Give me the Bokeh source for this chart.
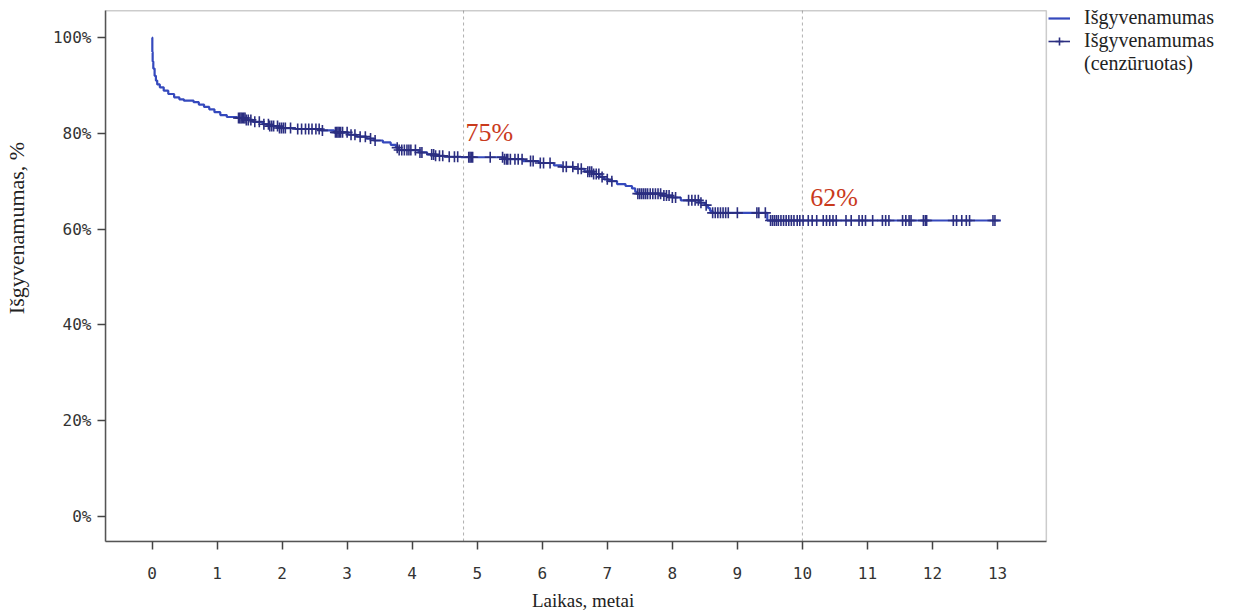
import numpy as np
from bokeh.plotting import figure
from bokeh.models import Range1d, FixedTicker, Legend, LegendItem, ColumnDataSource, BoxAnnotation
from bokeh.core.properties import value
from bokeh.embed import file_html
from bokeh.resources import INLINE

# Kaplan-Meier step curve (years, survival %)
km_time = [0, 0.005, 0.01, 0.02, 0.04, 0.06, 0.08, 0.12, 0.18, 0.25, 0.34, 0.42, 0.49,
           0.64, 0.72, 0.80, 0.88, 0.96, 1.05, 1.15, 1.31, 1.45, 1.55, 1.70, 1.80, 1.95,
           2.20, 2.60, 2.80, 3.02, 3.15, 3.30, 3.41, 3.55, 3.67, 3.75, 3.80, 4.10, 4.23,
           4.35, 4.50, 4.75, 5.41, 5.70, 5.95, 6.18, 6.30, 6.49, 6.65, 6.79, 6.88, 6.95,
           7.02, 7.15, 7.28, 7.38, 7.43, 7.46, 7.85, 8.00, 8.13, 8.42, 8.50, 8.55, 8.58,
           8.62, 9.46, 13.05]
km_surv = [100, 97, 95, 93.5, 92, 91, 90.2, 89.6, 88.9, 88.2, 87.5, 87.1, 86.8,
           86.5, 86.0, 85.5, 85.0, 84.4, 83.8, 83.4, 83.2, 82.8, 82.4, 81.9, 81.5, 81.1,
           80.9, 80.6, 80.2, 79.7, 79.3, 78.9, 78.5, 78.1, 77.6, 77.0, 76.5, 76.0, 75.6,
           75.3, 75.1, 75.0, 74.6, 74.2, 73.8, 73.3, 73.0, 72.6, 72.0, 71.5, 70.9, 70.4,
           70.0, 69.4, 69.0, 68.5, 67.8, 67.4, 67.0, 66.6, 66.0, 65.5, 65.0, 64.4, 63.8,
           63.4, 61.8, 61.8]

# censored observation times (years)
censor_time = [1.33, 1.35, 1.37, 1.39, 1.41, 1.43, 1.45, 1.48, 1.52, 1.58, 1.65, 1.72,
               1.79, 1.81, 1.84, 1.87, 1.93, 1.96, 1.99, 2.02, 2.05, 2.13,
               2.24, 2.30, 2.36, 2.41, 2.46, 2.52, 2.57, 2.62,
               2.82, 2.84, 2.86, 2.88, 2.90, 2.93, 3.00, 3.06, 3.12, 3.20, 3.28, 3.36, 3.43,
               3.77, 3.80, 3.84, 3.88, 3.92, 3.95, 3.98, 4.05, 4.12, 4.15, 4.30, 4.33, 4.36,
               4.42, 4.47, 4.57, 4.65, 4.70, 4.87, 4.89, 4.91, 4.93, 5.20,
               5.39, 5.42, 5.45, 5.47, 5.51, 5.58, 5.63, 5.69, 5.82, 5.86, 5.97, 6.02, 6.12,
               6.32, 6.37, 6.47, 6.55, 6.60, 6.70, 6.73, 6.76, 6.79, 6.83, 6.87, 6.92,
               7.00, 7.07, 7.47, 7.50, 7.53, 7.56, 7.59, 7.62, 7.66, 7.70, 7.74, 7.78,
               7.82, 7.87, 7.91, 7.95, 8.00, 8.05, 8.25, 8.30, 8.35, 8.40, 8.44, 8.52,
               8.62, 8.66, 8.70, 8.74, 8.78, 8.82, 8.86, 9.00, 9.30, 9.33, 9.43,
               9.51, 9.54, 9.57, 9.60, 9.63, 9.67, 9.71, 9.75, 9.79, 9.83, 9.87, 9.92, 9.96,
               10.01, 10.09, 10.15, 10.22, 10.32, 10.37, 10.42, 10.47, 10.52, 10.67, 10.75,
               10.87, 10.92, 10.97, 11.08, 11.23, 11.28, 11.33, 11.54, 11.59, 11.64, 11.67,
               11.86, 11.89, 11.91, 12.32, 12.37, 12.45, 12.52, 12.57, 12.93, 12.96]

x_ticks = list(range(0, 14))
y_ticks = [0, 20, 40, 60, 80, 100]
y_tick_labels = ["0%", "20%", "40%", "60%", "80%", "100%"]
marker_years = [4.79, 10]
marker_labels = ["75%", "62%"]
marker_label_y = [80.2, 66.6]
legend_labels = ["Išgyvenamumas", "Išgyvenamumas", "(cenzūruotas)"]

# survival value at each censored time
kt = np.array(km_time)
ks = np.array(km_surv)
idx = np.searchsorted(kt, np.array(censor_time), side="right") - 1
censor_surv = ks[idx]

# visible plot box (data units); the canvas frame extends right/up to hold the legend
X0, X1 = -0.715, 13.75
Y0, Y1 = -5.2, 105.6

p = figure(width=1236, height=616, output_backend="svg", toolbar_location=None,
           x_range=Range1d(X0, 16.674), y_range=Range1d(Y0, 107.3),
           min_border_left=105, min_border_right=0, min_border_top=2, min_border_bottom=75)
p.background_fill_color = "white"
p.border_fill_color = "white"
p.outline_line_color = None
p.grid.visible = False

p.add_layout(BoxAnnotation(left=X0, right=X1, bottom=Y0, top=Y1, fill_alpha=0,
                           fill_color=None, line_color="#555555", line_width=1.5))

# dashed reference lines at the marked years, spanning the plot box
p.segment(x0=marker_years, y0=[Y0] * len(marker_years), x1=marker_years,
          y1=[Y1] * len(marker_years), line_color="#b0b0b0", line_dash="3 3", line_width=1)

line_r = p.step(km_time, km_surv, mode="after", line_color="#3549bd", line_width=2.2)
cens_r = p.scatter(censor_time, censor_surv, marker="cross", size=11,
                   line_color="#2b2e80", line_width=1.6)
# legend helpers: single-point lines draw nothing in the plot
leg_h = p.line(censor_time[:1], list(censor_surv[:1]), line_color="#2b2e80", line_width=1.6)
leg_blank = p.line(censor_time[:1], list(censor_surv[:1]), line_alpha=0)

src = ColumnDataSource(dict(x=[marker_years[0] + 0.03, marker_years[1] + 0.12],
                            y=marker_label_y, t=marker_labels))
p.text(x="x", y="y", text="t", source=src, text_font=value("Liberation Serif"),
       text_font_size="26px", text_color="#c93a1c", text_baseline="alphabetic",
       text_align="left")

# axes
p.xaxis.ticker = FixedTicker(ticks=x_ticks)
p.yaxis.ticker = FixedTicker(ticks=y_ticks)
p.yaxis.major_label_overrides = {t: l for t, l in zip(y_ticks, y_tick_labels)}
p.xaxis.bounds = (X0, X1)
p.yaxis.bounds = (Y0, Y1)
for ax in (p.xaxis, p.yaxis):
    ax.axis_line_color = "#555555"
    ax.axis_line_width = 1.5
    ax.major_tick_line_color = "#444444"
    ax.major_tick_line_width = 1.5
    ax.major_tick_out = 8
    ax.major_tick_in = 0
    ax.minor_tick_out = 0
    ax.minor_tick_in = 0
    ax.major_label_text_font = "DejaVu Sans Mono"
    ax.major_label_text_font_size = "16px"
    ax.major_label_text_color = "#333333"
    ax.axis_label_text_font = "Liberation Serif"
    ax.axis_label_text_font_style = "normal"
    ax.axis_label_text_color = "#222222"
p.xaxis.axis_label_text_font_size = "19px"
p.yaxis.axis_label_text_font_size = "22px"
# non-breaking padding shifts the centred labels to where the reference has them
p.xaxis.axis_label = "Laikas, metai" + "\u00a0" * 37
p.yaxis.axis_label = "\u00a0" * 16 + "Išgyvenamumas, %"
p.xaxis.major_label_standoff = 17
p.xaxis.axis_label_standoff = 8
p.yaxis.major_label_standoff = 6
p.yaxis.axis_label_standoff = 21

legend = Legend(items=[LegendItem(label=legend_labels[0], renderers=[line_r]),
                       LegendItem(label=legend_labels[1], renderers=[leg_h, cens_r]),
                       LegendItem(label=legend_labels[2], renderers=[leg_blank])],
                location=(943, 539 - 69 - 4))
legend.margin = 0
legend.padding = 0
legend.spacing = 0
legend.border_line_color = None
legend.background_fill_alpha = 0
legend.glyph_width = 22
legend.glyph_height = 20
legend.label_height = 20
legend.label_standoff = 14
legend.label_text_font = "Liberation Serif"
legend.label_text_font_size = "20px"
legend.label_text_line_height = 1.0
legend.label_text_color = "#222222"
p.add_layout(legend)

open("out.html", "w").write(file_html(p, INLINE))
